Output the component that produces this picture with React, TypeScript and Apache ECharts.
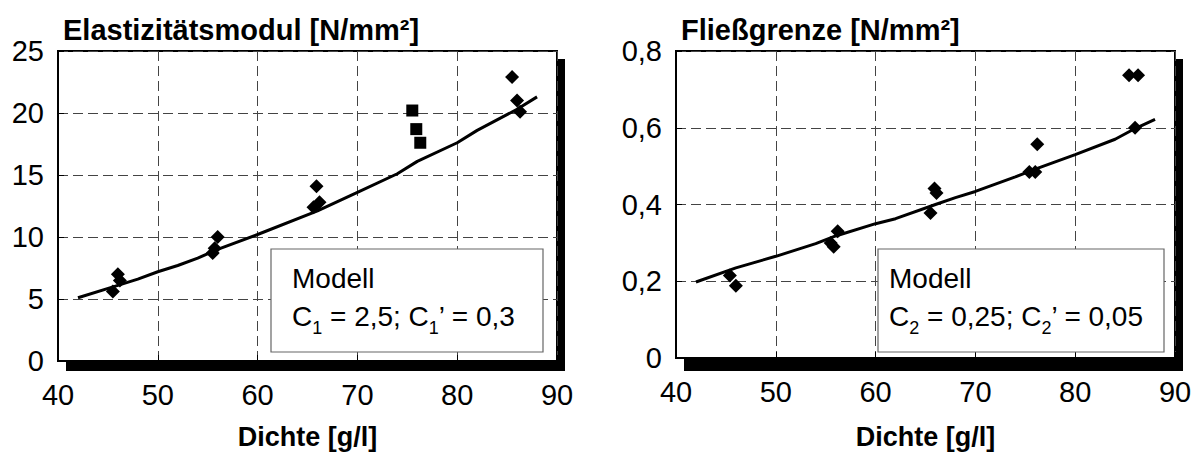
import React, { useEffect, useRef } from "react";
import * as echarts from "echarts";

const FONT = "'Liberation Sans', Arial, Helvetica, sans-serif";

// X ticks (density g/l)
const xTicks = [40, 50, 60, 70, 80, 90];

// Left chart: Elastizitätsmodul
const eDiamonds: [number, number][] = [
  [45.5, 5.6], [46.0, 7.0], [46.2, 6.5],
  [55.5, 8.7], [55.7, 9.1], [56.0, 10.0],
  [65.6, 12.4], [66.2, 12.8], [65.9, 14.1],
  [85.5, 22.9], [86.0, 21.0], [86.3, 20.1],
];
const eSquares: [number, number][] = [
  [75.5, 20.2], [75.9, 18.7], [76.3, 17.6],
];
const eModelX = [42, 46, 48, 50, 52, 54, 56, 60, 66, 70, 74, 76, 80, 82, 86, 88];
const eModelY = [5.1, 6.1, 6.6, 7.2, 7.7, 8.3, 9.0, 10.2, 12.1, 13.6, 15.1, 16.1, 17.6, 18.6, 20.3, 21.3];

// Right chart: Fließgrenze
const fDiamonds: [number, number][] = [
  [45.4, 0.215], [46.0, 0.188],
  [55.5, 0.300], [55.8, 0.290], [56.2, 0.330],
  [65.5, 0.378], [65.9, 0.442], [66.1, 0.430],
  [75.4, 0.485], [76.0, 0.485], [76.2, 0.557],
  [85.4, 0.737], [86.3, 0.737], [86.0, 0.600],
];
const fModelX = [42, 46, 50, 54, 56, 60, 62, 66, 68, 70, 74, 76, 80, 84, 86, 88];
const fModelY = [0.198, 0.235, 0.265, 0.298, 0.318, 0.350, 0.363, 0.400, 0.418, 0.434, 0.472, 0.492, 0.530, 0.570, 0.598, 0.622];

const titles = ["Elastizitätsmodul [N/mm²]", "Fließgrenze [N/mm²]"];
const xName = "Dichte [g/l]";

export default function App() {
  const ref = useRef<HTMLDivElement>(null);
  useEffect(() => {
    document.body.style.margin = "0";
    const chart = echarts.init(ref.current!, null, { renderer: "svg" });

    const gridCommon = {
      show: true,
      backgroundColor: "#fff",
      borderColor: "#000",
      borderWidth: 2,
      width: 499,
      height: 312,
      top: 51,
    };
    const split = { show: true, lineStyle: { type: [10, 5], color: "#444", width: 1 } };
    const xAxisFor = (gi: number, gap: number) => ({
      type: "value",
      gridIndex: gi,
      min: xTicks[0],
      max: xTicks[xTicks.length - 1],
      interval: 10,
      axisLine: { show: true, lineStyle: { color: "#000", width: 2 } },
      axisTick: { show: true, inside: true, length: 6, lineStyle: { color: "#000" } },
      axisLabel: { fontSize: 29, color: "#000", fontFamily: FONT, margin: 19 },
      splitLine: split,
      name: xName,
      nameLocation: "middle",
      nameGap: gap,
      nameTextStyle: { fontSize: 27, fontWeight: "bold", color: "#000", fontFamily: FONT },
    });

    const richText = (a: string, b: string, c: string) => ({
      text: `{n|C}{s|${a}}{n| = ${b}; C}{s|${a}}{n|’ = ${c}}`,
      rich: {
        n: { fontSize: 28, fontFamily: FONT, fill: "#000", lineHeight: 30, verticalAlign: "top" },
        s: { fontSize: 18, fontFamily: FONT, fill: "#000", lineHeight: 18, verticalAlign: "top", padding: [17, 0, 0, 0] },
      },
      verticalAlign: "top",
    });

    const titleStyle = { fontSize: 29, fontWeight: "bold", color: "#000", fontFamily: FONT };
    const markStyle = { color: "#000", opacity: 1 };

    const option: any = {
      animation: false,
      backgroundColor: "#fff",
      title: [
        { text: titles[0], left: 63, top: 15, padding: 0, textStyle: titleStyle },
        { text: titles[1], left: 681, top: 15, padding: 0, textStyle: titleStyle },
      ],
      grid: [
        { ...gridCommon, left: 58 },
        { ...gridCommon, left: 676 },
      ],
      xAxis: [xAxisFor(0, 62), xAxisFor(1, 65)],
      yAxis: [
        {
          type: "value", gridIndex: 0, min: 0, max: 25, interval: 5,
          axisLine: { show: true, lineStyle: { color: "#000", width: 2 } },
          axisTick: { show: true, inside: true, length: 6, lineStyle: { color: "#000" } },
          axisLabel: { fontSize: 29, color: "#000", fontFamily: FONT, margin: 14 },
          splitLine: split,
        },
        {
          type: "value", gridIndex: 1, min: 0, max: 0.8, interval: 0.2,
          axisLine: { show: true, lineStyle: { color: "#000", width: 2 } },
          axisTick: { show: true, inside: true, length: 6, lineStyle: { color: "#000" } },
          axisLabel: {
            fontSize: 29, color: "#000", fontFamily: FONT, margin: 14,
            formatter: (v: number) => (v === 0 ? "0" : v.toFixed(1).replace(".", ",")),
          },
          splitLine: split,
        },
      ],
      series: [
        {
          type: "scatter", xAxisIndex: 0, yAxisIndex: 0, data: eDiamonds,
          symbol: "diamond", symbolSize: 14, itemStyle: markStyle, z: 5,
        },
        {
          type: "scatter", xAxisIndex: 0, yAxisIndex: 0, data: eSquares,
          symbol: "rect", symbolSize: 12, itemStyle: markStyle, z: 5,
        },
        {
          type: "line", xAxisIndex: 0, yAxisIndex: 0,
          data: eModelX.map((x, i) => [x, eModelY[i]]),
          showSymbol: false, lineStyle: { color: "#000", width: 3 }, z: 4,
        },
        {
          type: "scatter", xAxisIndex: 1, yAxisIndex: 1, data: fDiamonds,
          symbol: "diamond", symbolSize: 14, itemStyle: markStyle, z: 5,
        },
        {
          type: "line", xAxisIndex: 1, yAxisIndex: 1,
          data: fModelX.map((x, i) => [x, fModelY[i]]),
          showSymbol: false, lineStyle: { color: "#000", width: 3 }, z: 4,
        },
      ],
      graphic: [
        { type: "rect", z: -10, zlevel: 0, shape: { x: 66, y: 59, width: 499, height: 312 }, style: { fill: "#000" }, silent: true },
        { type: "rect", z: -10, zlevel: 0, shape: { x: 684, y: 59, width: 499, height: 312 }, style: { fill: "#000" }, silent: true },
        { type: "rect", z: 100, shape: { x: 271, y: 249, width: 272, height: 103 }, style: { fill: "#fff", stroke: "#666", lineWidth: 1.2 } },
        { type: "text", z: 101, x: 292, y: 278, style: { text: "Modell", fontSize: 28, fontFamily: FONT, fill: "#000", verticalAlign: "middle" } },
        { type: "text", z: 101, x: 292, y: 302, style: richText("1", "2,5", "0,3") },
        { type: "rect", z: 100, shape: { x: 878, y: 249, width: 286, height: 103 }, style: { fill: "#fff", stroke: "#666", lineWidth: 1.2 } },
        { type: "text", z: 101, x: 889, y: 278, style: { text: "Modell", fontSize: 28, fontFamily: FONT, fill: "#000", verticalAlign: "middle" } },
        { type: "text", z: 101, x: 889, y: 302, style: richText("2", "0,25", "0,05") },
      ],
    };
    chart.setOption(option);
    return () => chart.dispose();
  }, []);
  return <div ref={ref} style={{ position: "absolute", left: 0, top: 0, width: 1195, height: 455 }} />;
}
